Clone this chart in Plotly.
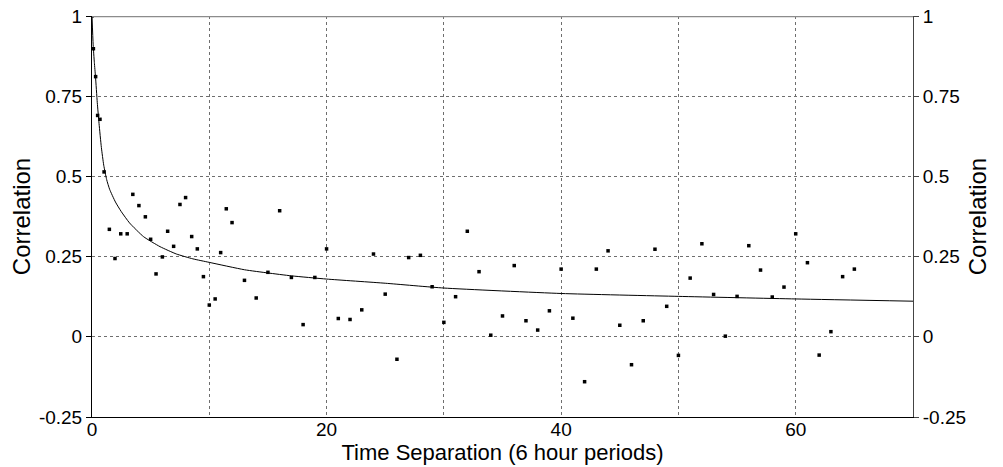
import plotly.graph_objects as go

# Observed correlations (x in 6-hour periods)
obs_x = [0, 0.12, 0.31, 0.48, 0.68, 1.03, 1.48, 1.96, 2.45, 3.0, 3.48, 4.0, 4.55, 5.0,
         5.46, 6.0, 6.45, 6.96, 7.5, 7.98, 8.5, 8.98, 9.5, 10.0, 10.5, 10.97, 11.45,
         11.94, 13, 14, 15, 16, 17, 18, 19, 20, 21, 22, 23, 24, 25, 26, 27, 28, 29, 30,
         31, 32, 33, 34, 35, 36, 37, 38, 39, 40, 41, 42, 43, 44, 45, 46, 47, 48, 49, 50,
         51, 52, 53, 54, 55, 56, 57, 58, 59, 60, 61, 62, 63, 64, 65]
obs_y = [1.0, 0.898, 0.811, 0.69, 0.678, 0.514, 0.335, 0.244, 0.321, 0.321, 0.444, 0.409,
         0.374, 0.304, 0.196, 0.249, 0.329, 0.282, 0.4125, 0.434, 0.3125, 0.274, 0.1875,
         0.099, 0.118, 0.2625, 0.399, 0.356, 0.176, 0.121, 0.201, 0.393, 0.185, 0.038,
         0.185, 0.274, 0.057, 0.054, 0.084, 0.258, 0.133, -0.070, 0.247, 0.254, 0.156,
         0.045, 0.125, 0.329, 0.203, 0.005, 0.065, 0.222, 0.05, 0.021, 0.081, 0.211,
         0.058, -0.14, 0.211, 0.268, 0.036, -0.087, 0.05, 0.273, 0.095, -0.058, 0.183,
         0.29, 0.132, 0.002, 0.126, 0.284, 0.208, 0.124, 0.155, 0.321, 0.231, -0.057,
         0.016, 0.1875, 0.211]

# Fitted curve
fit_x = [0, 0.1, 0.2, 0.3, 0.45, 0.6, 0.8, 1.0, 1.25, 1.5, 2.0, 2.5, 3.2, 4.4,
         5.8, 7.2, 8.6, 10, 13, 15, 17, 20, 25, 30, 40, 50, 60, 70]
fit_y = [1.0, 0.91, 0.855, 0.81, 0.73, 0.665, 0.59, 0.535, 0.49, 0.46, 0.42, 0.39,
         0.355, 0.312, 0.281, 0.258, 0.243, 0.232, 0.209, 0.199, 0.19, 0.18, 0.167,
         0.152, 0.135, 0.126, 0.118, 0.111]

x_ticks = [0, 10, 20, 30, 40, 50, 60, 70]
x_tick_text = ['0', '', '20', '', '40', '', '60', '']
y_ticks = [-0.25, 0, 0.25, 0.5, 0.75, 1]
y_tick_text = ['-0.25', '0', '0.25', '0.5', '0.75', '1']

FONT = "Arial, 'Liberation Sans', sans-serif"

fig = go.Figure()
fig.add_trace(go.Scatter(x=fit_x, y=fit_y, mode='lines',
                         line=dict(color='black', width=1, shape='spline', smoothing=0.5),
                         yaxis='y2', showlegend=False, hoverinfo='skip'))
fig.add_trace(go.Scatter(x=obs_x, y=obs_y, mode='markers',
                         marker=dict(symbol='square', size=3.5, color='black', line=dict(width=0)),
                         showlegend=False))

fig.update_layout(
    width=1003, height=467,
    margin=dict(l=92, r=90, t=16, b=50),
    paper_bgcolor='white', plot_bgcolor='white',
    font=dict(family=FONT, size=19, color='black'),
    xaxis=dict(range=[0, 70], tickvals=x_ticks, ticktext=x_tick_text, automargin=False,
               showgrid=True, gridcolor='#6e6e6e', griddash='dot', gridwidth=1,
               zeroline=False, showline=True, linecolor='black', linewidth=1,
               ticks='', ticklabelstandoff=-5,
               title=dict(text='Time Separation (6 hour periods)', font=dict(size=22), standoff=5)),
    yaxis=dict(range=[-0.25, 1], tickvals=y_ticks, ticktext=y_tick_text, automargin=False,
               showgrid=True, gridcolor='#6e6e6e', griddash='dot', gridwidth=1,
               zeroline=False, showline=True, linecolor='black', linewidth=1,
               ticks='outside', ticklen=5, tickcolor='black',
               title=dict(text='Correlation', font=dict(size=24), standoff=1)),
    yaxis2=dict(range=[-0.25, 1], tickvals=y_ticks, ticktext=y_tick_text, automargin=False,
                overlaying='y', side='right', showgrid=False, zeroline=False,
                showline=True, linecolor='#444444', linewidth=1,
                ticks='outside', ticklen=5, tickcolor='#444444',
                title=dict(text='Correlation', font=dict(size=24), standoff=4)),
    shapes=[dict(type='line', xref='paper', yref='y', x0=0, x1=1, y0=1, y1=1,
                 line=dict(color='#8c8c8c', width=2.5))],
)

fig.write_html("out.html")
